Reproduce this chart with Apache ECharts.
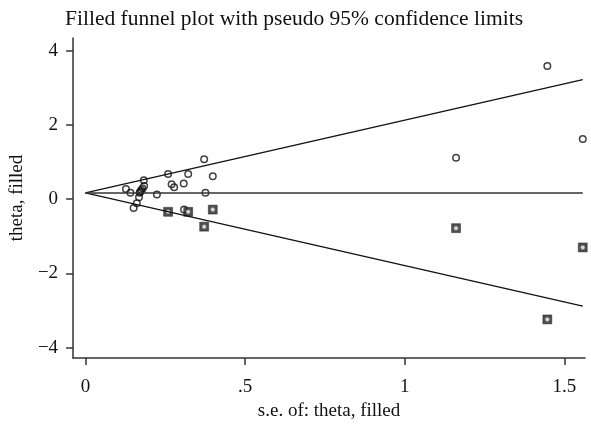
<!DOCTYPE html>
<html>
<head>
<meta charset="utf-8">
<script src="https://cdn.jsdelivr.net/npm/echarts@6/dist/echarts.min.js"></script>
<style>
  html, body { margin: 0; padding: 0; background: #fff; }
  #chart { width: 591px; height: 428px; }
</style>
</head>
<body>
<div id="chart"></div>
<script>
// observed studies: [s.e., theta]
var studies = [
  [0.127, 0.275], [0.141, 0.175], [0.151, -0.24], [0.161, -0.11],
  [0.168, 0.05], [0.170, 0.175], [0.172, 0.20], [0.175, 0.25],
  [0.179, 0.29], [0.184, 0.356], [0.183, 0.51], [0.224, 0.13],
  [0.259, 0.68], [0.270, 0.40], [0.278, 0.32], [0.308, 0.42],
  [0.309, -0.28], [0.322, 0.68], [0.372, 1.08], [0.376, 0.175],
  [0.399, 0.62], [1.161, 1.12], [1.447, 3.59], [1.558, 1.62]
]
// imputed (filled) studies
var filled = [
  [0.259, -0.34], [0.322, -0.34], [0.372, -0.74], [0.399, -0.28],
  [1.161, -0.78], [1.447, -3.24], [1.558, -1.30]
]
// pseudo 95% limits and pooled estimate
var limitSe = [0, 1.558]
var upperLimit = [0.17, 3.22]
var lowerLimit = [0.17, -2.88]
var pooled = [0.17, 0.17]

var xTicks = [0, 0.5, 1, 1.5]
var yTicks = [-4, -2, 0, 2, 4]

var font = 'Liberation Serif'
var ink = '#111'

function pairs (ys) {
  return limitSe.map(function (x, i) { return [x, ys[i]] })
}

var chart = echarts.init(document.getElementById('chart'))
chart.setOption({
  animation: false,
  title: {
    text: 'Filled funnel plot with pseudo 95% confidence limits',
    left: 60,
    top: 3,
    textStyle: { fontFamily: font, fontSize: 21.5, fontWeight: 'normal', color: ink }
  },
  grid: { left: 73, right: 6, top: 38, bottom: 70 },
  xAxis: {
    type: 'value',
    min: -0.0385,
    max: 1.565,
    name: 's.e. of: theta, filled',
    nameLocation: 'middle',
    nameGap: 43,
    nameTextStyle: { fontFamily: font, fontSize: 19, color: ink },
    splitLine: { show: false },
    axisLine: { show: true, onZero: false, lineStyle: { color: '#333', width: 1.5 } },
    axisTick: { show: true, length: 7, customValues: xTicks, lineStyle: { color: '#333', width: 1.5 } },
    axisLabel: {
      customValues: xTicks,
      margin: 20,
      fontFamily: font,
      fontSize: 19,
      color: ink,
      formatter: function (v) { return String(v).replace(/^0\./, '.') }
    }
  },
  yAxis: {
    type: 'value',
    min: -4.28,
    max: 4.345,
    name: 'theta, filled',
    nameLocation: 'middle',
    nameGap: 46,
    nameTextStyle: { fontFamily: font, fontSize: 19, color: ink },
    splitLine: { show: false },
    axisLine: { show: true, onZero: false, lineStyle: { color: '#333', width: 1.5 } },
    axisTick: { show: true, length: 7, customValues: yTicks, lineStyle: { color: '#333', width: 1.5 } },
    axisLabel: {
      customValues: yTicks,
      margin: 15,
      fontFamily: font,
      fontSize: 19,
      color: ink,
      formatter: function (v) { return String(v).replace('-', '\u2212') }
    }
  },
  series: [
    {
      type: 'line', data: pairs(upperLimit), symbol: 'none',
      lineStyle: { color: ink, width: 1.3 }, silent: true
    },
    {
      type: 'line', data: pairs(lowerLimit), symbol: 'none',
      lineStyle: { color: ink, width: 1.3 }, silent: true
    },
    {
      type: 'line', data: pairs(pooled), symbol: 'none',
      lineStyle: { color: '#333', width: 1.5 }, silent: true
    },
    {
      type: 'scatter', data: studies, symbol: 'circle', symbolSize: 6.5,
      itemStyle: { color: 'rgba(0,0,0,0)', borderColor: ink, borderWidth: 1.5 }
    },
    {
      type: 'scatter', data: filled, symbol: 'rect', symbolSize: 9,
      itemStyle: { color: '#222', borderColor: '#111', borderWidth: 0.5 }
    },
    {
      type: 'scatter', data: filled, symbol: 'circle', symbolSize: 4,
      itemStyle: { color: '#fff', borderColor: '#999', borderWidth: 0.6 }
    }
  ]
})
</script>
</body>
</html>
